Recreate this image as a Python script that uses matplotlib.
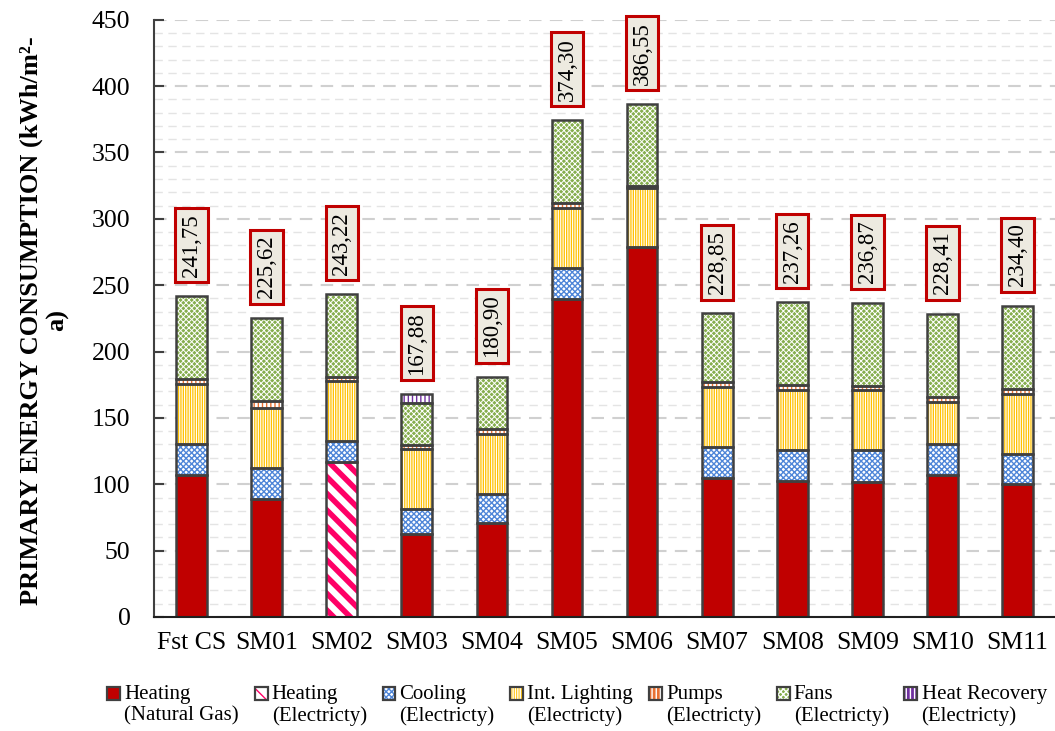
import matplotlib
matplotlib.use("Agg")
import matplotlib.pyplot as plt
from matplotlib.patches import Patch, Rectangle
from matplotlib.legend_handler import HandlerPatch
import numpy as np

plt.rcParams['font.family'] = ['Liberation Serif', 'DejaVu Serif']

cases = ['Fst CS', 'SM01', 'SM02', 'SM03', 'SM04', 'SM05', 'SM06',
         'SM07', 'SM08', 'SM09', 'SM10', 'SM11']
heat_gas = [107.0, 88.9, 0, 62.6, 71.1, 239.7, 278.4, 105.0, 102.5, 102.0, 107.0, 100.0]
heat_elec = [0, 0, 116.6, 0, 0, 0, 0, 0, 0, 0, 0, 0]
cooling = [23.2, 23.7, 16.1, 18.6, 21.6, 23.6, 0, 23.1, 23.6, 24.1, 23.6, 23.1]
lighting = [45.2, 45.2, 45.2, 45.2, 45.2, 44.7, 44.7, 44.8, 45.2, 44.8, 31.7, 45.2]
pumps = [4.0, 5.0, 3.0, 3.0, 3.6, 4.1, 1.5, 4.0, 3.6, 3.5, 3.5, 3.6]
fans = [62.35, 62.8, 62.3, 32.1, 39.4, 62.2, 61.95, 51.95, 62.36, 62.47, 62.6, 62.5]
heat_rec = [0, 0, 0, 6.4, 0, 0, 0, 0, 0, 0, 0, 0]
totals = ['241,75', '225,62', '243,22', '167,88', '180,90', '374,30', '386,55',
          '228,85', '237,26', '236,87', '228,41', '234,40']

labels = ['Heating\n(Natural Gas)', 'Heating\n(Electricty)', 'Cooling\n(Electricty)',
          'Int. Lighting\n(Electricty)', 'Pumps\n(Electricty)', 'Fans\n(Electricty)',
          'Heat Recovery\n(Electricty)']
series = [heat_gas, heat_elec, cooling, lighting, pumps, fans, heat_rec]
# (face, hatch, hatch colour, hatch linewidth)
styles = [
    ('#C00000', '', '#C00000', 1.0),
    ('white', '\\\\', '#FF0066', 4.0),
    ('white', 'xxxxxx', '#4F86D8', 1.0),
    ('#FFC000', '|||||||', 'white', 0.8),
    ('#E97132', '||||', 'white', 2.0),
    ('#86AE4E', 'xxxxxx', 'white', 0.7),
    ('#7030A0', '||||', 'white', 2.0),
]
edge = '#404040'

fig = plt.figure(figsize=(10.55, 7.31), dpi=100)
ax = fig.add_axes([0.146, 0.156, 0.854, 0.817])

x = np.arange(len(cases))
width = 0.41
bottom = np.zeros(len(cases))
handles = []
for vals, (fc, hatch, hc, hlw), lab in zip(series, styles, labels):
    vals = np.array(vals, dtype=float)
    with plt.rc_context({'hatch.linewidth': hlw}):
        bars = ax.bar(x, vals, width, bottom=bottom, color=fc, hatch=hatch,
                      edgecolor=hc, linewidth=0, zorder=3)
        for b in bars:
            if hasattr(b, 'set_hatch_linewidth'):
                b.set_hatch_linewidth(hlw)
        hp = Patch(facecolor=fc, hatch=hatch, edgecolor=hc, linewidth=0)
        if hasattr(hp, 'set_hatch_linewidth'):
            hp.set_hatch_linewidth(hlw)
    mask = vals > 0
    ax.bar(x[mask], vals[mask], width, bottom=bottom[mask], facecolor='none',
           edgecolor=edge, linewidth=1.8, zorder=4)
    op = Patch(facecolor='none', edgecolor=edge, linewidth=1.6)
    handles.append((hp, op))
    bottom += vals

for xi, top, txt in zip(x, bottom, totals):
    ax.annotate(txt, (xi, top), xytext=(0, 14), textcoords='offset points',
                ha='center', va='bottom', rotation=90, fontsize=16.5,
                bbox=dict(boxstyle='square,pad=0.25', facecolor='#EDEAE0',
                          edgecolor='#C00000', linewidth=2.2))

ax.set_xlim(-0.5, 11.5)
ax.set_ylim(0, 450)
ax.set_yticks(np.arange(0, 451, 50))
ax.set_yticks(np.arange(0, 451, 10), minor=True)
ax.tick_params(axis='y', which='major', direction='in', length=7, width=1.5,
               color=edge, labelsize=18.5, pad=17)
ax.tick_params(axis='y', which='minor', length=0)
ax.tick_params(axis='x', length=0, labelsize=18.5, pad=11)
ax.set_xticks(x)
ax.set_xticklabels(cases)
ax.grid(axis='y', which='major', color='#D0D0D0', linestyle=(0, (6, 4)), linewidth=1.5, zorder=0)
ax.grid(axis='y', which='minor', color='#E4E4E4', linestyle=(0, (6, 4)), linewidth=1.0, zorder=0)
for s in ['right', 'top']:
    ax.spines[s].set_visible(False)
ax.spines['left'].set_color(edge)
ax.spines['left'].set_linewidth(1.5)
ax.spines['bottom'].set_color('#202020')
ax.spines['bottom'].set_linewidth(1.5)
ax.spines['bottom'].set_zorder(5)

fig.text(0.042, 0.562, 'PRIMARY ENERGY CONSUMPTION (kWh/m²-\na)', rotation=90,
         ha='center', va='center', fontsize=19, fontweight='bold',
         multialignment='center')


def raised_patch(legend, orig_handle, xdescent, ydescent, width, height, fontsize):
    return Rectangle((-xdescent, -ydescent + 0.55 * fontsize), width, height)


fig.legend(handles, labels, loc='center', bbox_to_anchor=(0.547, 0.035),
           ncol=7, frameon=False, fontsize=15, handlelength=0.62,
           handleheight=0.62, handletextpad=0.2, columnspacing=0.75,
           handler_map={Patch: HandlerPatch(patch_func=raised_patch)})

fig.savefig('out.png', dpi=100)
